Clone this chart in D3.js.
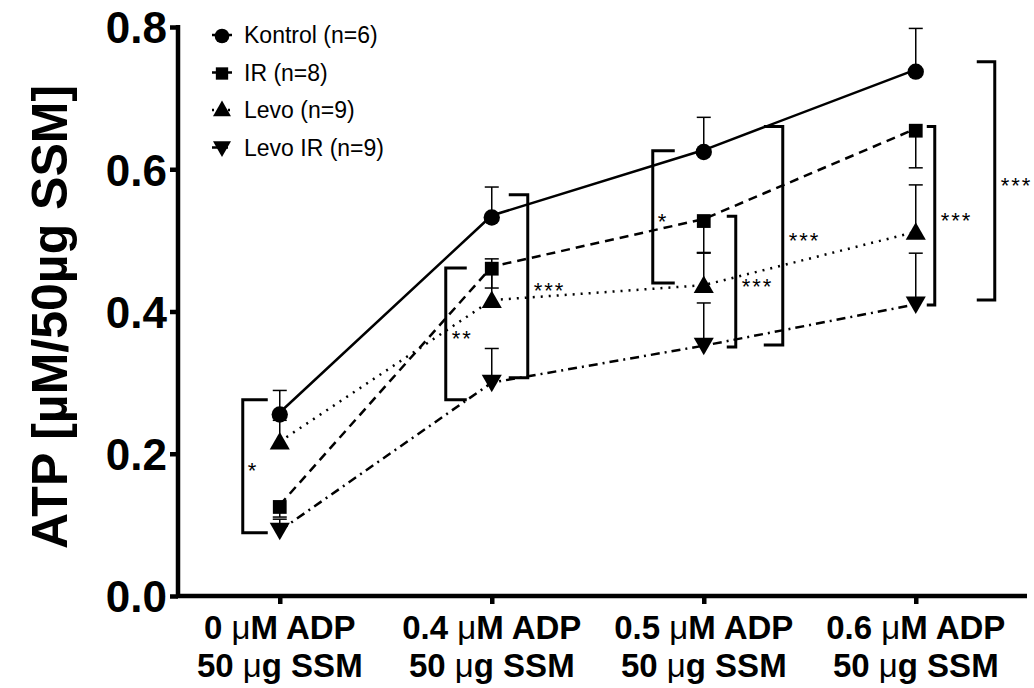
<!DOCTYPE html>
<html>
<head>
<meta charset="utf-8">
<script src="https://cdn.jsdelivr.net/npm/d3@7"></script>
<style>
  body { margin: 0; background: #fff; }
  text { font-family: "Liberation Sans", Arial, sans-serif; }
</style>
</head>
<body>
<script>
"use strict";

// categories (two label lines each)
var doseLabels = ["0", "0.4", "0.5", "0.6"];
var ssmLabels = ["50", "50", "50", "50"];

// series means and SEM (sign = direction the bar is drawn)
var kontrol    = [0.258, 0.535, 0.627, 0.740];
var kontrolErr = [0.031, 0.040, 0.046, 0.058];
var ir         = [0.128, 0.463, 0.530, 0.657];
var irErr      = [-0.017, -0.030, -0.048, -0.055];
var levo       = [0.217, 0.416, 0.437, 0.512];
var levoErr    = [0.030, 0.058, 0.046, 0.066];
var levoIR     = [0.092, 0.300, 0.352, 0.410];
var levoIRErr  = [0.016, 0.048, 0.060, 0.072];

var seriesNames = ["Kontrol (n=6)", "IR (n=8)", "Levo (n=9)", "Levo IR (n=9)"];

// y tick labels
var yTicks = [0.0, 0.2, 0.4, 0.6, 0.8];

// significance brackets: category, top, bottom, label
var bracketCat    = [0, 1, 1, 2, 2, 2, 3, 3];
var bracketTop    = [0.276, 0.461, 0.564, 0.626, 0.534, 0.660, 0.660, 0.751];
var bracketBottom = [0.089, 0.276, 0.307, 0.440, 0.350, 0.353, 0.409, 0.416];
var bracketLabel  = ["*", "**", "***", "*", "***", "***", "***", "***"];

// layout for brackets (pixel offsets from category centre): vertical line, arm end
var bracketVx  = [-37, -46, 36, -51, 32, 79, 19, 79];
var bracketArm = [-12, -25, 17, -29, 23, 60, 11, 61];

var W = 1034, H = 688;

var svg = d3.select("body").append("svg")
    .attr("width", W)
    .attr("height", H);

var x = d3.scaleLinear().domain([-0.48, 3.52]).range([178, 1026]);
var y = d3.scaleLinear().domain([0, 0.8]).range([596, 27]);

// axes
var yAxis = svg.append("g")
    .attr("transform", "translate(178,0)")
    .call(d3.axisLeft(y).tickValues(yTicks).tickFormat(d3.format(".1f")).tickSize(8).tickSizeOuter(0));
yAxis.select(".domain").attr("stroke-width", 4.5).attr("d", "M0," + (y(0) + 2) + "V" + (y(0.8) - 2));
yAxis.selectAll(".tick line").attr("stroke-width", 4.5);
yAxis.selectAll(".tick text")
    .attr("font-size", 44).attr("font-weight", "bold").attr("fill", "#000")
    .attr("font-family", "Liberation Sans, Arial, sans-serif")
    .attr("x", -11).attr("dy", "0.36em");

var xAxis = svg.append("g")
    .attr("transform", "translate(0,596)")
    .call(d3.axisBottom(x).tickValues([0, 1, 2, 3]).tickFormat("").tickSize(8).tickSizeOuter(0));
xAxis.select(".domain").attr("stroke-width", 4.5).attr("d", "M176,0H1027");
xAxis.selectAll(".tick line").attr("stroke-width", 4.5);

// x labels
var xl = svg.append("g");
doseLabels.forEach(function(d, i) {
  var t1 = xl.append("text").attr("x", x(i)).attr("y", 639)
      .attr("text-anchor", "middle").attr("font-size", 33).attr("font-weight", "bold");
  t1.append("tspan").text(d + " ");
  t1.append("tspan").attr("font-weight", "normal").text("\u03bc");
  t1.append("tspan").text("M ADP");
  var t2 = xl.append("text").attr("x", x(i)).attr("y", 677)
      .attr("text-anchor", "middle").attr("font-size", 33).attr("font-weight", "bold");
  t2.append("tspan").text(ssmLabels[i] + " ");
  t2.append("tspan").attr("font-weight", "normal").text("\u03bc");
  t2.append("tspan").text("g SSM");
});

// y label
svg.append("text")
    .attr("transform", "translate(67,317) rotate(-90)")
    .attr("text-anchor", "middle")
    .attr("font-size", 50).attr("font-weight", "bold")
    .text("ATP [\u00b5M/50\u00b5g SSM]");

// series setup
var series = [
  {name: seriesNames[0], vals: kontrol, err: kontrolErr, dash: null, shape: d3.symbolCircle, size: 210, rot: 0},
  {name: seriesNames[1], vals: ir, err: irErr, dash: "9,6", shape: d3.symbolSquare, size: 190, rot: 0},
  {name: seriesNames[2], vals: levo, err: levoErr, dash: "2,6", shape: d3.symbolTriangle, size: 175, rot: 0},
  {name: seriesNames[3], vals: levoIR, err: levoIRErr, dash: "9,5,2,5", shape: d3.symbolTriangle, size: 175, rot: 180}
];

var line = d3.line()
    .x(function(d, i) { return x(i); })
    .y(function(d) { return y(d); });

// error bars
series.forEach(function(s) {
  var g = svg.append("g");
  s.vals.forEach(function(v, i) {
    var e = v + s.err[i];
    g.append("line").attr("x1", x(i)).attr("x2", x(i)).attr("y1", y(v)).attr("y2", y(e))
        .attr("stroke", "#000").attr("stroke-width", 1.5);
    g.append("line").attr("x1", x(i) - 7).attr("x2", x(i) + 7).attr("y1", y(e)).attr("y2", y(e))
        .attr("stroke", "#000").attr("stroke-width", 1.5);
  });
});

// lines
series.forEach(function(s) {
  svg.append("path")
      .datum(s.vals)
      .attr("fill", "none")
      .attr("stroke", "#000")
      .attr("stroke-width", 2.5)
      .attr("stroke-dasharray", s.dash)
      .attr("d", line);
});

// markers
series.forEach(function(s) {
  svg.append("g").selectAll("path")
      .data(s.vals)
      .enter().append("path")
      .attr("d", d3.symbol().type(s.shape).size(s.size))
      .attr("transform", function(d, i) {
        return "translate(" + x(i) + "," + (y(d) + (s.rot ? -2 : 2)) + ") rotate(" + s.rot + ")";
      })
      .attr("fill", "#000");
});

// brackets
var bg = svg.append("g");
bracketCat.forEach(function(c, i) {
  var vx = x(c) + bracketVx[i], ax = x(c) + bracketArm[i];
  var yt = y(bracketTop[i]), yb = y(bracketBottom[i]);
  bg.append("path")
      .attr("d", "M" + ax + "," + yt + "H" + vx + "V" + yb + "H" + ax)
      .attr("fill", "none").attr("stroke", "#000").attr("stroke-width", 3);
  var left = bracketVx[i] < 0;
  bg.append("text")
      .attr("x", left ? vx + (bracketLabel[i].length > 1 ? 6 : 5) : vx + 6)
      .attr("y", (yt + yb) / 2 + 12)
      .attr("font-size", 22)
      .attr("letter-spacing", 2)
      .text(bracketLabel[i]);
});

// legend
var legend = svg.append("g").attr("transform", "translate(222,35)");
series.forEach(function(s, i) {
  var row = legend.append("g").attr("transform", "translate(0," + (i * 37.5) + ")");
  row.append("line").attr("x1", -10).attr("x2", 10)
      .attr("stroke", "#000").attr("stroke-width", 2.5).attr("stroke-dasharray", s.dash);
  row.append("path")
      .attr("d", d3.symbol().type(s.shape).size(s.size * 0.8))
      .attr("transform", "translate(0," + (s.rot ? -1 : 1) + ") rotate(" + s.rot + ")");
  row.append("text").attr("x", 22).attr("y", 8).attr("font-size", 23).text(s.name);
});
</script>
</body>
</html>
